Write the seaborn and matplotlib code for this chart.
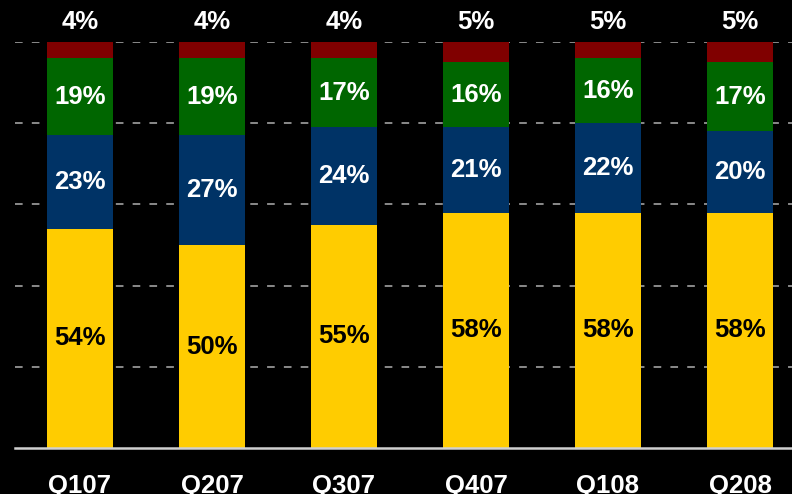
import matplotlib
matplotlib.use("Agg")
import matplotlib.pyplot as plt
import seaborn as sns
import numpy as np
import pandas as pd

quarters = ["Q107", "Q207", "Q307", "Q407", "Q108", "Q208"]
yellow_vals = [54, 50, 55, 58, 58, 58]
blue_vals = [23, 27, 24, 21, 22, 20]
green_vals = [19, 19, 17, 16, 16, 17]
red_vals = [4, 4, 4, 5, 5, 5]

series = [yellow_vals, blue_vals, green_vals, red_vals]
colors = ["#FFCC00", "#003366", "#006600", "#800000"]
text_colors = ["black", "white", "white", "white"]

sns.set_style("dark")
plt.rcParams["font.family"] = ["Liberation Sans", "DejaVu Sans"]

fig = plt.figure(figsize=(7.92, 4.94), dpi=100, facecolor="black")
ax = fig.add_axes([15 / 792, 1 - 448 / 494, 1 - 15 / 792, (448 - 42) / 494])
ax.set_facecolor("black")

cum = np.cumsum(np.array(series, dtype=float), axis=0)
df = pd.DataFrame({"q": quarters})
# draw from top (largest cumulative) down so lower segments overlay
for i in range(len(series) - 1, -1, -1):
    df["v"] = cum[i]
    sns.barplot(data=df, x="q", y="v", color=colors[i], width=0.5,
                saturation=1, ax=ax, zorder=3, linewidth=0)

FS = 18.5
# labels
for j in range(len(quarters)):
    for i in range(3):
        bottom = cum[i - 1][j] if i > 0 else 0
        mid = (bottom + cum[i][j]) / 2
        ax.text(j, mid, f"{series[i][j]}%", ha="center", va="center",
                color=text_colors[i], fontsize=FS, fontweight="bold", zorder=5)
    ax.text(j, 105, f"{red_vals[j]}%", ha="center", va="center",
            color="white", fontsize=FS, fontweight="bold", zorder=5, clip_on=False)

ax.set_ylim(0, 100)
ax.set_xlim(-0.492, 5.394)
ax.set_yticks([20, 40, 60, 80, 100])
ax.set_yticklabels([])
ax.tick_params(axis="y", length=0)
ax.yaxis.grid(True, color="#B0B0B0", linestyle=(0, (5, 6)), linewidth=1.1, zorder=1)
ax.xaxis.grid(False)
ax.set_axisbelow(True)
for s in ["top", "right", "left"]:
    ax.spines[s].set_visible(False)
ax.spines["bottom"].set_color("#D0D0D0")
ax.spines["bottom"].set_linewidth(1.8)
ax.spines["bottom"].set_zorder(6)
ax.set_xlabel("")
ax.set_ylabel("")
ax.tick_params(axis="x", length=0, pad=19, colors="white", labelsize=FS)
for lbl in ax.get_xticklabels():
    lbl.set_fontweight("bold")
    lbl.set_color("white")

fig.savefig("out.png", dpi=100, facecolor="black")
